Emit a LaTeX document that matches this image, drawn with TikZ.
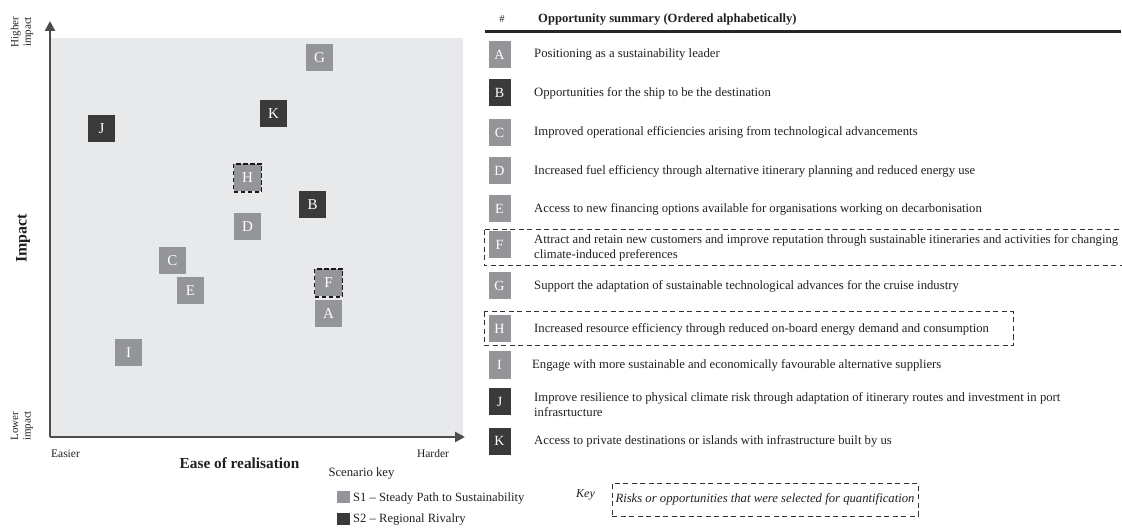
\documentclass[tikz,border=0pt]{standalone}
\usepackage{fontspec}
\setmainfont{Liberation Serif}
\usetikzlibrary{arrows.meta}
\definecolor{sone}{HTML}{939598}
\definecolor{stwo}{HTML}{3A3A3A}
\definecolor{plotbg}{HTML}{E8E9EB}
\definecolor{axisc}{HTML}{4D4D4D}
\definecolor{txt}{HTML}{231F20}
\begin{document}
\begin{tikzpicture}[x=1pt,y=-1pt,
  mk/.style={minimum size=27pt, inner sep=0pt, text=white, font=\fontsize{15}{15}\selectfont},
  mkone/.style={mk, fill=sone},
  mktwo/.style={mk, fill=stwo},
  selmk/.style={draw=black!90, line width=1.8pt, dash pattern=on 4.5pt off 2.5pt, minimum size=28pt},
  tl/.style={minimum width=22pt, minimum height=27pt, inner sep=0pt, text=white, font=\fontsize{14}{14}\selectfont},
  tlone/.style={tl, fill=sone},
  tltwo/.style={tl, fill=stwo},
  desc/.style={anchor=west, inner sep=0pt, font=\fontsize{12.7}{15}\selectfont, align=left, text=txt},
  lab/.style={inner sep=0pt, font=\fontsize{11.5}{13}\selectfont, text=txt},
  qbox/.style={draw=black!80, line width=1pt, dash pattern=on 5pt off 3.5pt},
  axis/.style={draw=axisc, line width=2.5pt, -{Triangle[length=10pt,width=10pt]}},
  legsq/.style={minimum size=12.5pt, inner sep=0pt}]
\useasboundingbox (0,0) rectangle (1122,529);
% plot area
\fill[plotbg] (51,38) rectangle (463,437);
\coordinate (o) at (50,437);
\coordinate (ytip) at (50,21);
\coordinate (xtip) at (465,437);
\draw[axis] (o) -- (ytip);
\draw[axis] (o) -- (xtip);
% axis labels
\node[lab, rotate=90, align=center, font=\fontsize{11}{12.5}\selectfont] (hi) at (22,32) {Higher\\impact};
\node[lab, rotate=90, align=center, font=\fontsize{11}{12.5}\selectfont] (lo) at (22,426) {Lower\\impact};
\node[lab, rotate=90, font=\fontsize{16}{16}\selectfont\bfseries] (imp) at (23,238.5) {Impact};
\node[lab] (easier) at (65.5,454) {Easier};
\node[lab] (harder) at (433,454) {Harder};
\node[lab, font=\fontsize{15.3}{16}\selectfont\bfseries] (ease) at (239.5,463) {Ease of realisation};
% markers
\node[mkone] (pG) at (319.5,57.5) {G};
\node[mktwo] (pK) at (273.5,113.5) {K};
\node[mktwo] (pJ) at (101.5,128.5) {J};
\node[mkone] (pH) at (247.5,178) {H};
\node[selmk] (pHs) at (247.5,178) {};
\node[mktwo] (pB) at (312.5,204.5) {B};
\node[mkone] (pD) at (247.5,226.5) {D};
\node[mkone] (pC) at (172.5,260.5) {C};
\node[mkone] (pE) at (190.5,291) {E};
\node[mkone] (pF) at (328.5,283) {F};
\node[selmk] (pFs) at (328.5,283) {};
\node[mkone] (pA) at (328.5,313.5) {A};
\node[mkone] (pI) at (128.5,352.5) {I};
% scenario key
\node[lab, font=\fontsize{12.7}{13}\selectfont] (skey) at (361.5,473) {Scenario key};
\node[legsq, fill=sone] (s1) at (343.5,497) {};
\node[lab, anchor=west, font=\fontsize{12.6}{13}\selectfont] (s1t) at (353,498) {S1 -- Steady Path to Sustainability};
\node[legsq, fill=stwo] (s2) at (343.5,519) {};
\node[lab, anchor=west, font=\fontsize{12.6}{13}\selectfont] (s2t) at (353,519.5) {S2 -- Regional Rivalry};
% table header
\node[lab, font=\fontsize{10.5}{12}\selectfont] (hash) at (502,19) {\#};
\node[lab, anchor=west, font=\fontsize{12.6}{14}\selectfont\bfseries] (head) at (538,19) {Opportunity summary (Ordered alphabetically)};
\coordinate (rl) at (485,32);
\coordinate (rr) at (1121,32);
\draw[line width=3pt, black!85] (rl) -- (rr);
% selection boxes
\draw[qbox] (484,230) rectangle (1135,266);
\draw[qbox] (484,312) rectangle (1013,346);
% rows
\node[tlone] (tA) at (499.5,54.5) {A};
\node[desc] (dA) at (534,54.5) {Positioning as a sustainability leader};
\node[tltwo] (tB) at (499.5,93) {B};
\node[desc] (dB) at (534,93) {Opportunities for the ship to be the destination};
\node[tlone] (tC) at (499.5,132.5) {C};
\node[desc] (dC) at (534,132.5) {Improved operational efficiencies arising from technological advancements};
\node[tlone] (tD) at (499.5,171) {D};
\node[desc] (dD) at (534,171) {Increased fuel efficiency through alternative itinerary planning and reduced energy use};
\node[tlone] (tE) at (499.5,209) {E};
\node[desc] (dE) at (534,209) {Access to new financing options available for organisations working on decarbonisation};
\node[tlone] (tF) at (499.5,245) {F};
\node[desc] (dF) at (534,247.5) {Attract and retain new customers and improve reputation through sustainable itineraries and activities for changing\\climate-induced preferences};
\node[tlone] (tG) at (499.5,286) {G};
\node[desc] (dG) at (534,286) {Support the adaptation of sustainable technological advances for the cruise industry};
\node[tlone] (tH) at (499.5,329) {H};
\node[desc] (dH) at (534,329) {Increased resource efficiency through reduced on-board energy demand and consumption};
\node[tlone] (tI) at (499.5,365) {I};
\node[desc] (dI) at (532,365) {Engage with more sustainable and economically favourable alternative suppliers};
\node[tltwo] (tJ) at (499.5,401.5) {J};
\node[desc] (dJ) at (534,404.5) {Improve resilience to physical climate risk through adaptation of itinerary routes and investment in port\\infrasrtucture};
\node[tltwo] (tK) at (499.5,441) {K};
\node[desc] (dK) at (534,441) {Access to private destinations or islands with infrastructure built by us};
% key
\node[lab, font=\fontsize{12}{13}\selectfont\itshape] (key) at (585.5,495) {Key};
\node[qbox, minimum width=306pt, minimum height=33pt, inner sep=0pt, text=txt, font=\fontsize{12.7}{13}\selectfont\itshape] (kbox) at (765,499.5) {Risks or opportunities that were selected for quantification};
\end{tikzpicture}
\end{document}
